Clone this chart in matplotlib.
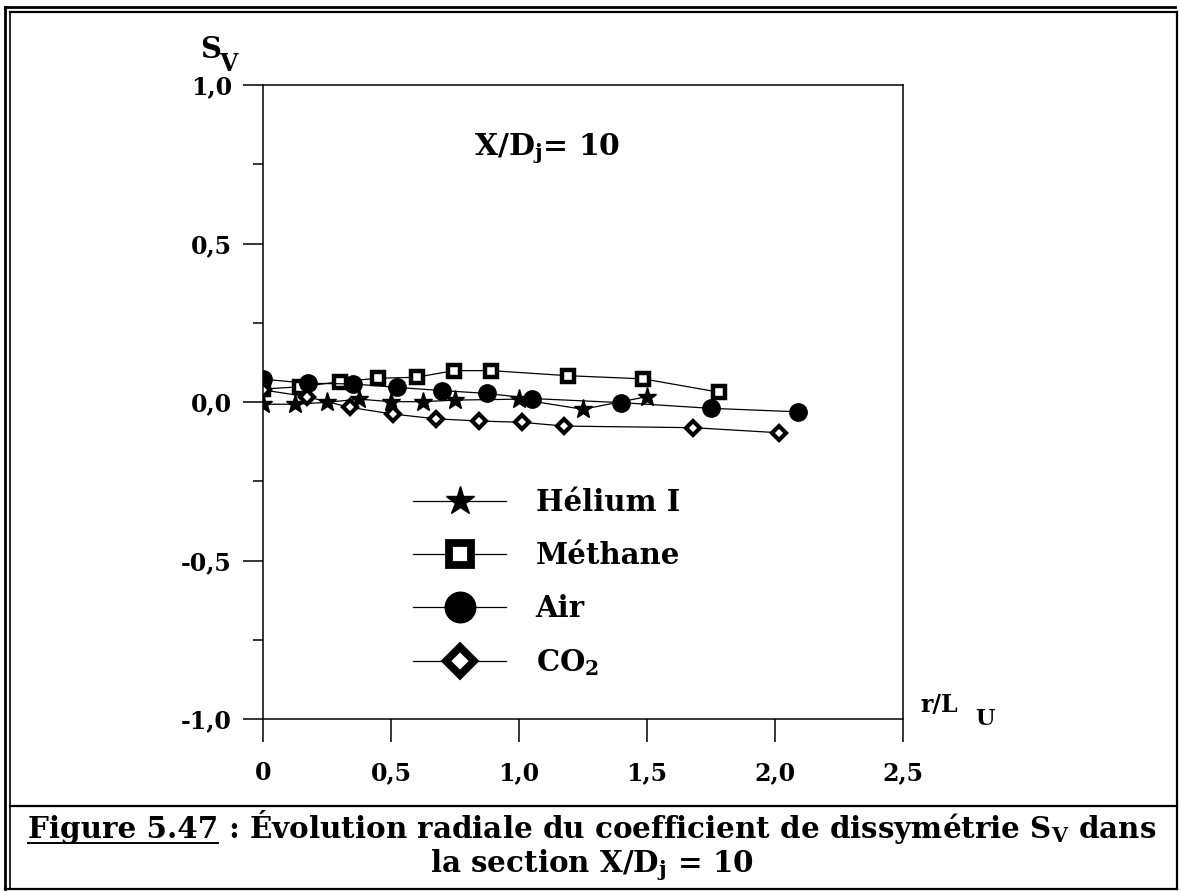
import matplotlib
matplotlib.use('Agg')
import matplotlib.pyplot as plt
from matplotlib.lines import Line2D

plt.rcParams['font.family'] = 'DejaVu Serif'
plt.rcParams['font.weight'] = 'bold'
plt.rcParams['mathtext.fontset'] = 'custom'
plt.rcParams['mathtext.rm'] = 'DejaVu Serif:bold'
plt.rcParams['mathtext.it'] = 'DejaVu Serif:bold'
plt.rcParams['mathtext.bf'] = 'DejaVu Serif:bold'

# values (r/L_U , S_V)
helium_x = [0, 0.125, 0.25, 0.375, 0.5, 0.625, 0.75, 1.0, 1.25, 1.5]
helium_y = [-0.007, -0.007, -0.001, 0.009, 0.001, 0.001, 0.006, 0.009, -0.023, 0.017]
methane_x = [0, 0.145, 0.30, 0.45, 0.60, 0.745, 0.89, 1.19, 1.485, 1.78]
methane_y = [0.041, 0.048, 0.064, 0.075, 0.078, 0.099, 0.099, 0.083, 0.073, 0.031]
air_x = [0, 0.175, 0.35, 0.525, 0.70, 0.875, 1.05, 1.40, 1.75, 2.09]
air_y = [0.072, 0.059, 0.057, 0.046, 0.036, 0.027, 0.011, -0.002, -0.02, -0.031]
co2_x = [0, 0.17, 0.34, 0.507, 0.675, 0.844, 1.01, 1.177, 1.68, 2.015]
co2_y = [0.038, 0.017, -0.017, -0.038, -0.053, -0.06, -0.064, -0.076, -0.081, -0.097]

labels = ['Hélium I', 'Méthane', 'Air', 'CO$_2$']
xticks = [0, 0.5, 1.0, 1.5, 2.0, 2.5]
xtick_labels = ['0', '0,5', '1,0', '1,5', '2,0', '2,5']
yticks = [-1.0, -0.5, 0.0, 0.5, 1.0]
ytick_labels = ['-1,0', '-0,5', '0,0', '0,5', '1,0']
yminor = [-0.75, -0.25, 0.25, 0.75]

W, H = 1180, 891
fig = plt.figure(figsize=(W / 100, H / 100), dpi=100)
ax = fig.add_axes([263 / W, 1 - 719 / H, 640 / W, 634 / H])

ax.plot(helium_x, helium_y, color='black', lw=0.9, marker='*', ms=14, mfc='black', mec='black')
ax.plot(methane_x, methane_y, color='black', lw=0.9, marker='s', ms=8.5, mfc='white', mec='black', mew=3.2)
ax.plot(air_x, air_y, color='black', lw=0.9, marker='o', ms=12.5, mfc='black', mec='black')
ax.plot(co2_x, co2_y, color='black', lw=0.9, marker='D', ms=7, mfc='white', mec='black', mew=3.0)

ax.set_xlim(0, 2.5)
ax.set_ylim(-1, 1)
ax.set_xticks(xticks)
ax.set_xticklabels(xtick_labels)
ax.set_yticks(yticks)
ax.set_yticklabels(ytick_labels)
ax.set_yticks(yminor, minor=True)
ax.tick_params(axis='y', which='major', direction='out', length=14.4, width=1.1, pad=8, labelsize=17)
ax.tick_params(axis='y', which='minor', direction='out', length=7.2, width=1.1)
ax.tick_params(axis='x', which='major', direction='out', length=16.5, width=1.1, pad=14, labelsize=17)
for s in ax.spines.values():
    s.set_linewidth(1.1)

# axis labels
ax.text(-0.246, 1.085, 'S', fontsize=21, ha='left', va='baseline')
ax.text(-0.17, 1.045, 'V', fontsize=17, ha='left', va='baseline')
fig.text(920 / W, 1 - 712 / H, 'r/L', fontsize=17, ha='left', va='baseline')
fig.text(975 / W, 1 - 725 / H, 'U', fontsize=16, ha='left', va='baseline')
ax.text(0.825, 0.779, 'X/D$_\\mathrm{j}$= 10', fontsize=21.5, ha='left', va='baseline')

# legend with larger markers
handles = [
    Line2D([], [], color='black', lw=0.9, marker='*', ms=21, mfc='black', mec='black'),
    Line2D([], [], color='black', lw=0.9, marker='s', ms=16, mfc='white', mec='black', mew=5.6),
    Line2D([], [], color='black', lw=0.9, marker='o', ms=22, mfc='black', mec='black'),
    Line2D([], [], color='black', lw=0.9, marker='D', ms=14.5, mfc='white', mec='black', mew=5.5),
]
ax.legend(handles, labels, loc='center left', bbox_to_anchor=(413 / W, 1 - 583 / H),
          bbox_transform=fig.transFigure, frameon=False, fontsize=21, handlelength=3.2,
          handletextpad=1.0, labelspacing=0.82, borderpad=0, borderaxespad=0)

# frame of the figure
def fline(x0, y0, x1, y1, lw):
    fig.add_artist(Line2D([x0 / W, x1 / W], [1 - y0 / H, 1 - y1 / H], color='black', lw=lw,
                          transform=fig.transFigure, solid_capstyle='projecting'))

fline(5, 7, 1175, 7, 2.0)
fline(5, 7, 5, 889, 2.0)
fline(10, 11.5, 1177, 11.5, 1.6)
fline(10, 11.5, 10, 889, 1.2)
fline(1177, 11.5, 1177, 889, 1.6)
fline(5, 889, 1177, 889, 1.6)
fline(10, 806, 1177, 806, 1.6)

# caption
fig.canvas.draw()
r = fig.canvas.get_renderer()
cap_fs = 21.2
p1 = fig.text(0, 1 - 838 / H, 'Figure 5.47', fontsize=cap_fs, ha='left', va='baseline')
p2 = fig.text(0, 1 - 838 / H, ' : Évolution radiale du coefficient de dissymétrie S$_\\mathrm{V}$ dans',
              fontsize=cap_fs, ha='left', va='baseline')
w1 = p1.get_window_extent(r).width
w2 = p2.get_window_extent(r).width
x0 = 592 - (w1 + w2) / 2
p1.set_x(x0 / W)
p2.set_x((x0 + w1) / W)
fline(x0, 843, x0 + w1, 843, 1.4)
fig.text(592 / W, 1 - 872 / H, 'la section X/D$_\\mathrm{j}$ = 10', fontsize=cap_fs, ha='center', va='baseline')

fig.savefig('out.png', dpi=100)
